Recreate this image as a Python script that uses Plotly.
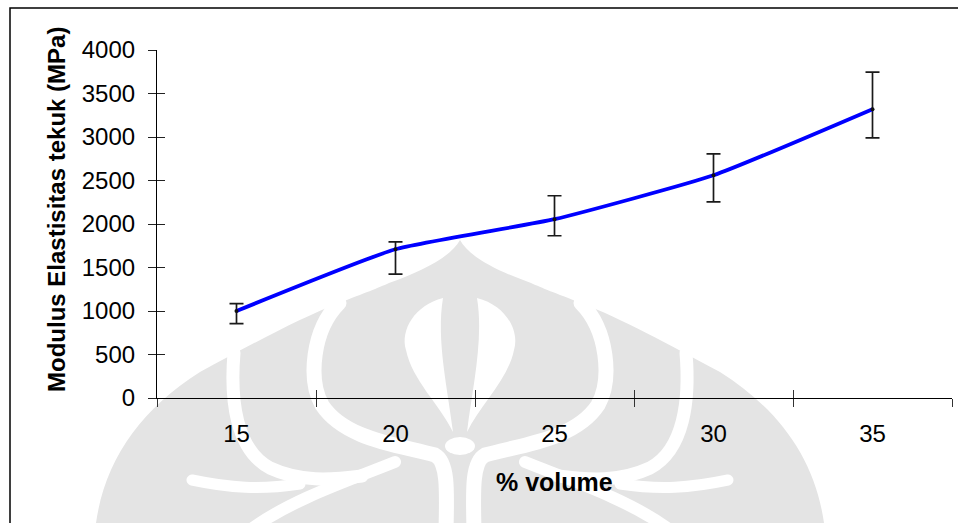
import base64
import plotly.graph_objects as go

# ---- data ----
categories = ["15", "20", "25", "30", "35"]
modulus = [1000, 1710, 2055, 2560, 3320]
err_upper = [1085, 1795, 2325, 2805, 3745]
err_lower = [855, 1425, 1865, 2255, 2990]
y_ticks = [0, 500, 1000, 1500, 2000, 2500, 3000, 3500, 4000]

x_title = "% volume"
y_title = "Modulus Elastisitas tekuk (MPa)"

plus = [u - v for u, v in zip(err_upper, modulus)]
minus = [v - l for v, l in zip(modulus, err_lower)]

FONT = "Liberation Sans, Arial, sans-serif"
W, H = 958, 523
L, R, T, B = 157, 6, 50, 125
PW, PH = W - L - R, H - T - B

fig = go.Figure()

fig.add_trace(go.Scatter(
    x=categories, y=modulus, mode="lines+markers",
    line=dict(color="#0000FF", width=3.8, shape="spline", smoothing=0.45),
    marker=dict(color="#111111", size=4),
    error_y=dict(type="data", symmetric=False, array=plus, arrayminus=minus,
                 color="#1a1a1a", thickness=1.7, width=7),
    showlegend=False, hoverinfo="x+y",
))
# invisible helpers so the overlay axes (crossing tick marks) get drawn
fig.add_trace(go.Scatter(x=list(range(len(categories))), y=modulus, mode="none",
                         xaxis="x2", yaxis="y", showlegend=False, hoverinfo="skip"))
fig.add_trace(go.Scatter(x=categories, y=modulus, mode="none",
                         xaxis="x", yaxis="y2", showlegend=False, hoverinfo="skip"))

# ---- watermark (decorative, light grey logo, drawn in pixel space) ----
CX2 = 920  # mirror axis is x = 460


def mirror_path(d):
    out = []
    toks = d.split()
    i = 0
    expect_x = True
    for t in toks:
        if t.isalpha():
            out.append(t)
            expect_x = True
            continue
        v = float(t)
        if expect_x:
            out.append(f"{CX2 - v:g}")
        else:
            out.append(f"{v:g}")
        expect_x = not expect_x
    return " ".join(out)


envelope = ("M 96 523 C 105 460 140 410 200 372 C 250 345 300 318 339 303 "
            "C 365 293 378 288 389 283 C 420 272 450 258 460 240 "
            "C 470 258 500 272 531 283 C 542 288 555 293 581 303 "
            "C 620 318 670 345 720 372 C 780 410 815 460 824 523 Z")
bands = [
    ("M 339 303 C 312 330 308 380 322 405 C 345 440 400 445 435 455 C 448 462 447 490 446 530", 15),
    ("M 234 353 C 230 400 236 450 270 468 C 300 482 330 480 362 476", 13),
    ("M 300 484 C 260 490 230 488 192 480", 11),
    ("M 395 462 C 350 480 290 500 250 530", 12),
]
petal = ("M 443 298 C 415 305 400 330 406 350 C 412 380 440 405 453 432 "
         "C 448 390 436 340 443 298 Z")

parts = [f'<path d="{envelope}" fill="#e4e4e4"/>']
for d, w in bands:
    for dd in (d, mirror_path(d)):
        parts.append(f'<path d="{dd}" fill="none" stroke="#ffffff" stroke-width="{w}" '
                     f'stroke-linecap="round"/>')
for dd in (petal, mirror_path(petal)):
    parts.append(f'<path d="{dd}" fill="#ffffff"/>')
parts.append('<ellipse cx="460" cy="446" rx="15" ry="9" fill="#ffffff"/>')

svg = (f'<svg xmlns="http://www.w3.org/2000/svg" width="{W}" height="{H}" '
       f'viewBox="0 0 {W} {H}" preserveAspectRatio="none">' + "".join(parts) + "</svg>")
src = "data:image/svg+xml;base64," + base64.b64encode(svg.encode()).decode()

fig.add_layout_image(dict(
    source=src, xref="paper", yref="paper",
    x=-L / PW, y=(PH + T) / PH, sizex=W / PW, sizey=H / PH,
    xanchor="left", yanchor="top", sizing="stretch", layer="below",
))

axis_common = dict(showgrid=False, zeroline=False)

fig.update_layout(
    width=W, height=H, autosize=False,
    margin=dict(l=L, r=R, t=T, b=B, pad=0),
    paper_bgcolor="white", plot_bgcolor="rgba(0,0,0,0)",
    font=dict(family=FONT, color="black"),
    xaxis=dict(
        type="category", categoryorder="array", categoryarray=categories,
        tickson="boundaries", ticks="outside", ticklen=8, tickwidth=1, tickcolor="#333",
        showline=True, linecolor="black", linewidth=1.2,
        tickfont=dict(size=24, family=FONT, color="black"),
        ticklabelstandoff=14, range=[-0.5, len(categories) - 0.5],
        **axis_common,
    ),
    xaxis2=dict(
        overlaying="x", anchor="y", side="bottom", type="linear",
        range=[-0.5, len(categories) - 0.5],
        tickmode="array", tickvals=[i - 0.5 for i in range(len(categories) + 1)],
        ticks="inside", ticklen=8, tickwidth=1, tickcolor="#333",
        showticklabels=False, showline=False, **axis_common,
    ),
    yaxis=dict(
        range=[0, 4000], tickmode="array", tickvals=y_ticks,
        ticks="outside", ticklen=8, tickwidth=1, tickcolor="#222",
        showline=True, linecolor="black", linewidth=1.2,
        tickfont=dict(size=24, family=FONT, color="black"),
        ticklabelstandoff=8,
        **axis_common,
    ),
    yaxis2=dict(
        overlaying="y", anchor="x", side="left", range=[0, 4000],
        tickmode="array", tickvals=y_ticks,
        ticks="inside", ticklen=8, tickwidth=1, tickcolor="#222",
        showticklabels=False, showline=False, **axis_common,
    ),
    annotations=[
        dict(text=f"<b>{x_title}</b>", xref="paper", yref="paper",
             x=(554 - L) / PW, y=(PH + T - 482) / PH, xanchor="center", yanchor="middle",
             showarrow=False, font=dict(size=25, family=FONT, color="black")),
        dict(text=f"<b>{y_title}</b>", xref="paper", yref="paper",
             x=(56 - L) / PW, y=(PH + T - 210) / PH, xanchor="center", yanchor="middle",
             textangle=-90, showarrow=False, font=dict(size=24, family=FONT, color="black")),
    ],
    shapes=[
        dict(type="rect", xref="paper", yref="paper",
             x0=(10 - L) / PW, x1=(975 - L) / PW,
             y0=(PH + T - 540) / PH, y1=(PH + T - 8) / PH,
             line=dict(color="black", width=1.5), fillcolor="rgba(0,0,0,0)", layer="above"),
    ],
)

fig.write_html("out.html")
